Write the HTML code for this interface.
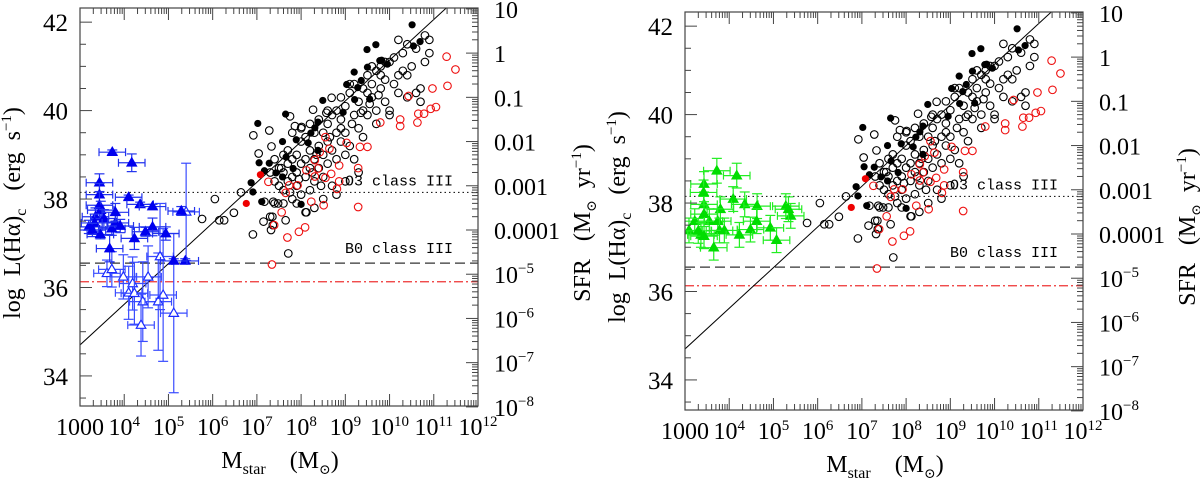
<!DOCTYPE html>
<html><head><meta charset="utf-8">
<style>
html,body{margin:0;padding:0;background:#fff;}
svg{display:block;font-family:"Liberation Serif","DejaVu Serif",serif;}
text{white-space:pre;}
</style></head>
<body>
<svg id="chart" width="1200" height="478" viewBox="0 0 1200 478" xmlns="http://www.w3.org/2000/svg"></svg>
<script>
// ---- data (log Mstar, log L(Halpha)) ----
const galOpenM = [5.76,6.05,6.15,6.26,6.48,6.64,6.91,6.92,7.04,7.17,7.15,7.3,7.32,7.28,7.33,7.36,7.37,7.48,7.65,7.71,7.75,7.86,8.01,8.12,8.27,8.57,8.69,
7.4,7.5,7.5,7.6,7.6,7.7,7.7,7.7,7.8,7.8,7.8,7.9,7.9,7.9,8.0,8.0,8.0,8.1,8.1,8.1,8.2,8.2,8.2,8.3,8.3,8.3,8.4,8.4,8.4,8.5,8.5,8.5,8.6,8.6,8.6,8.7,8.7,8.7,8.8,8.8,8.8,8.9,8.9,9.0,9.0,9.0,9.1,9.1,9.2,9.2,9.3,9.3,9.4,9.4,9.5,9.5,9.6,9.6,9.7,9.7,9.8,9.8,9.9,9.9,10.0,10.0,10.1,10.1,10.2,10.2,10.3,10.3,10.4,10.4,10.5,10.6,10.6,10.7,10.8,10.9,10.9,10.8,10.7,10.4,10.0,9.7,9.4,9.2,9.3,9.0,8.8,8.5,8.3,8.1,7.9,7.6,7.4,7.35,7.4,7.3,7.6,7.8,8.0,8.6,9.1,8.9,9.5,9.8,10.2,9.6,9.9,8.2,8.45,8.25,7.95,7.75,7.55,8.35,8.65,8.9,9.15,9.35,9.55,9.75];
const galOpenL = [37.55,38.0,37.52,37.52,37.69,38.15,37.2,39.44,39.03,37.94,37.49,37.6,37.3,39.55,39.19,37.41,37.94,37.9,37.52,36.77,39.87,39.65,39.63,37.7,40.02,39.95,40.29,
38.9,38.7,38.3,38.6,38.2,38.4,38.8,39.1,38.5,38.0,38.9,39.0,38.6,38.3,38.8,39.3,38.1,38.5,38.9,39.4,38.7,39.1,38.2,38.9,39.5,38.4,39.2,38.7,39.8,39.0,39.5,38.5,39.3,39.7,38.8,39.1,39.9,38.3,39.5,40.0,38.9,39.3,39.8,39.0,40.1,39.5,40.4,39.2,39.9,40.6,40.2,39.6,40.5,40.0,40.8,39.9,40.3,40.6,40.0,40.9,40.5,41.0,40.7,40.2,41.1,40.0,40.6,41.2,40.8,41.6,41.3,40.9,41.5,40.8,41.0,41.4,40.4,40.2,41.7,41.6,41.3,41.1,40.5,40.3,39.9,39.7,39.4,38.9,38.6,38.4,38.1,38.0,37.8,37.7,37.9,37.9,37.9,37.6,38.4,38.6,39.0,39.5,39.6,40.0,40.6,40.3,40.4,40.8,40.4,41.0,41.1,39.7,38.3,38.6,38.45,38.15,38.7,39.0,39.4,39.6,39.7,39.95,40.15,40.35];
const galFillM = [10.51,10.69,10.54,9.69,9.49,9.78,9.95,9.82,9.50,9.20,9.36,9.28,9.03,8.49,9.21,9.55,8.95,7.65,7.02,8.31,8.22,8.38,7.89,7.58,8.16,8.38,7.05,7.28,7.17,7.43,7.82,6.87,6.91,7.11,8.00,7.66,7.58];
const galFillL = [41.94,41.56,41.46,41.49,41.38,41.13,41.05,41.14,40.98,40.87,40.68,40.52,40.59,40.23,40.25,40.26,39.96,39.92,39.71,39.61,39.49,39.74,39.34,39.30,39.27,39.10,38.82,38.81,38.64,38.59,38.69,38.37,38.16,37.94,37.88,38.95,38.50];
const redFillM = [7.08,6.76];
const redFillL = [38.55,37.90];
const redOpenM = [11.29,11.49,11.31,10.97,10.43,11.05,10.93,10.78,10.65,10.24,10.24,10.63,9.79,9.50,9.33,9.03,9.29,9.29,8.86,8.86,8.68,8.55,8.55,8.64,8.42,8.31,8.38,8.12,8.23,8.51,7.92,7.73,7.65,7.26,7.39,7.56,7.69,7.95,8.09,7.34,8.31,8.81];
const redOpenL = [41.22,40.93,40.56,40.5,40.33,40.08,40.04,39.93,39.93,39.8,39.65,39.73,39.73,39.18,39.18,39.27,38.7,37.82,38.76,38.4,38.57,38.48,39.4,39.14,39.06,38.88,38.69,38.65,37.94,37.86,38.31,38.31,38.14,38.39,37.41,37.7,37.13,37.26,37.36,36.52,38.51,38.23];
// left panel: blue triangles
const blueFillM = [3.73,4.17,3.44,3.44,4.1,4.36,4.64,5.29,3.44,3.47,3.35,3.54,3.8,3.8,3.2,3.33,3.28,3.46,3.72,3.91,4.48,4.64,4.23,4.94,3.67,5.38,5.12];
const blueFillL = [39.06,38.82,38.37,38.1,38.04,37.88,37.83,37.73,37.86,37.75,37.6,37.56,37.46,37.7,37.37,37.46,37.3,37.2,37.33,37.39,37.26,37.37,37.11,37.22,36.88,36.6,36.6];
const blueFillYErr = [0.05,0.2,0.2,0.25,0.05,0.05,0.05,0.1,0.3,0.2,0.2,0.2,0.2,0.2,0.15,0.2,0.15,0.1,0.15,0.15,0.1,0.2,0.25,0.15,0.3,0.05,0.05];
const blueOpenM = [3.61,3.72,3.98,4.19,4.54,4.1,4.23,4.42,4.77,4.88,4.38,5.12,4.81,5.4];
const blueOpenL = [36.32,36.41,36.24,36.09,36.24,35.88,35.87,35.68,35.68,35.83,35.15,35.42,36.7,37.71];
const blueOpenYErr = [0.3,0.4,0.5,0.6,0.7,0.6,0.7,0.9,1.1,1.5,0.7,1.8,1.2,1.1];
// right panel: green triangles
const greenM = [3.72,4.17,3.43,3.43,3.42,4.09,4.35,4.63,5.28,3.8,3.43,3.55,3.22,3.74,3.78,3.89,3.09,3.3,3.36,3.43,4.48,4.23,4.62,4.93,5.07,3.65,5.39,5.34];
const greenL = [38.73,38.62,38.43,37.97,38.24,38.09,37.97,37.93,37.93,37.86,37.75,37.59,37.59,37.59,37.38,37.38,37.38,37.37,37.28,37.25,37.4,37.28,37.59,37.44,37.16,36.99,37.71,37.86];
// reference lines and fit
const lineO3 = 38.15, lineB0 = 36.55, lineRed = 36.13;
const fitA = 34.7, fitB = 0.92;
const xTickExp = [3,4,5,6,7,8,9,10,11,12];
const yTicks = [34,36,38,40,42];
const sfrTickLabels = ["10","1","0.1","0.01","0.001","0.0001","10","10","10","10"];
const sfrTickExps = [null,null,null,null,null,null,"−5","−6","−7","−8"];

const NS = "http://www.w3.org/2000/svg";
const svg = document.getElementById('chart');
function mk(tag, attrs, parent){const e=document.createElementNS(NS,tag);for(const k in attrs)e.setAttribute(k,attrs[k]);(parent||svg).appendChild(e);return e;}

function panel(px, py, name, tri){
  const W=398,H=398, xMin=3,xMax=12, yMin=33.32,yMax=42.32;
  const sx=v=>px+(v-xMin)/(xMax-xMin)*W;
  const sy=v=>py+(yMax-v)/(yMax-yMin)*H;
  const g=mk('g',{});
  
  
  const cid='clip-'+name;
  const cp=mk('clipPath',{id:cid},g); mk('rect',{x:px,y:py,width:W,height:H},cp);
  const plot=mk('g',{'clip-path':'url(#'+cid+')'},g);
  const ax=mk('g',{stroke:'#444','stroke-width':1},g);
  
  
  for(let d=3;d<12;d++){for(let k=1;k<10;k++){const v=d+Math.log10(k);const x=sx(v);const len=k===1?12:6;
    if(k===1&&d===3)continue;
    mk('line',{x1:x,y1:py+H,x2:x,y2:py+H-len},ax);mk('line',{x1:x,y1:py,x2:x,y2:py+len},ax);}}
  for(let v=33.5;v<=42.3;v+=0.5){const y=sy(v);const len=(Math.abs(v%2)<0.01)?12:6;mk('line',{x1:px,y1:y,x2:px+len,y2:y},ax);}
  for(let s=-8;s<=1;s++){for(let k=1;k<10;k++){const v=s+Math.log10(k)+41.3;if(v>yMax)continue;const y=sy(v);const len=k===1?12:6;mk('line',{x1:px+W,y1:y,x2:px+W-len,y2:y},ax);}}
  xTickExp.forEach(e=>{const t=mk('text',{x:sx(e),y:py+H+29,'font-size':24,'text-anchor':'middle',fill:'#000'},g);
    
    if(e===3){t.textContent='1000';}else{t.textContent='10';const s=mk('tspan',{'font-size':15,dy:-9},t);s.textContent=String(e);}
  });
  yTicks.forEach(v=>{const t=mk('text',{x:px-12,y:sy(v)+9,'font-size':25,'text-anchor':'end',fill:'#000'},g);t.textContent=String(v);
    });
  sfrTickLabels.forEach((lab,i)=>{const v=1-i+41.3;const t=mk('text',{x:px+W+16,y:sy(v)+9,'font-size':24,fill:'#000'},g);t.textContent=lab;
    
    if(sfrTickExps[i]){const s=mk('tspan',{'font-size':15,dy:-10},t);s.textContent=sfrTickExps[i];}});
  mk('line',{x1:px,x2:px+W,y1:sy(lineO3),y2:sy(lineO3),stroke:'#000','stroke-width':1,'stroke-dasharray':'1.5 3'},plot);
  mk('line',{x1:px,x2:px+W,y1:sy(lineB0),y2:sy(lineB0),stroke:'#333','stroke-width':1.2,'stroke-dasharray':'10 5'},plot);
  mk('line',{x1:px,x2:px+W,y1:sy(lineRed),y2:sy(lineRed),stroke:'#e33','stroke-width':1.2,'stroke-dasharray':'9 3 2 3'},plot);
  const mono='"Liberation Mono","DejaVu Sans Mono",monospace';
  let t=mk('text',{x:px+373,y:sy(lineO3)-7,'font-size':15,'text-anchor':'end','font-family':mono},g);t.textContent='O3 class III';
  
  t=mk('text',{x:px+373,y:sy(lineB0)-10,'font-size':15,'text-anchor':'end','font-family':mono},g);t.textContent='B0 class III';
  
  const fl=mk('line',{x1:sx(3),y1:sy(fitA),x2:sx(12),y2:sy(fitA+fitB*9),stroke:'#000','stroke-width':1},plot);
  
  const triPath=(x,y,r)=>`M${x},${y-r} L${x+r*0.95},${y+r*0.65} L${x-r*0.95},${y+r*0.65} Z`;
  function tris(Ms,Ls,Ye,col,errCol,filled,nm){
    Ms.forEach((m,i)=>{const x=sx(m),y=sy(Ls[i]);const e=Ye[i];
      const eg=mk('g',{stroke:errCol,'stroke-width':1.2},plot);
      
      const xl=sx(m-0.3),xr=sx(m+0.3),yt=sy(Ls[i]+e),yb=sy(Ls[i]-e);
      mk('line',{x1:xl,x2:xr,y1:y,y2:y},eg);mk('line',{x1:xl,x2:xl,y1:y-4,y2:y+4},eg);mk('line',{x1:xr,x2:xr,y1:y-4,y2:y+4},eg);
      mk('line',{x1:x,x2:x,y1:yt,y2:yb},eg);mk('line',{x1:x-5,x2:x+5,y1:yt,y2:yt},eg);mk('line',{x1:x-5,x2:x+5,y1:yb,y2:yb},eg);
      const p=mk('path',{d:triPath(x,y,5),fill:filled?col:'#fff',stroke:col,'stroke-width':1.2},plot);
      
    });
  }
  if(tri==='blue'){
    tris(blueOpenM,blueOpenL,blueOpenYErr,'#1a2cff','#3a4cff',false,'blue-open-triangle');
    tris(blueFillM,blueFillL,blueFillYErr,'#0000ee','#2233ee',true,'blue-filled-triangle');
  } else {
    tris(greenM,greenL,greenM.map(()=>0.28),'#00dd00','#22ee22',true,'green-triangle');
  }
  galOpenM.forEach((m,i)=>{const c=mk('circle',{cx:sx(m),cy:sy(galOpenL[i]),r:3.8,fill:'none',stroke:'#000','stroke-width':1.1},plot);
    });
  redOpenM.forEach((m,i)=>{const c=mk('circle',{cx:sx(m),cy:sy(redOpenL[i]),r:3.8,fill:'none',stroke:'#e11','stroke-width':1.1},plot);
    });
  galFillM.forEach((m,i)=>{const c=mk('circle',{cx:sx(m),cy:sy(galFillL[i]),r:3.6,fill:'#000'},plot);
    });
  redFillM.forEach((m,i)=>{const c=mk('circle',{cx:sx(m),cy:sy(redFillL[i]),r:3.6,fill:'#e00'},plot);
    });
  const fr=mk('rect',{x:px,y:py,width:W,height:H,fill:'none',stroke:'#444','stroke-width':1.2},g);
  
  t=mk('text',{'font-size':24,'text-anchor':'middle',transform:`translate(${px-60},${py+205}) rotate(-90)`},g);
  
  t.innerHTML='log  L(Hα)<tspan font-size="16" dy="6">c</tspan><tspan dy="-6">   (erg  s</tspan><tspan font-size="15" dy="-9">−1</tspan><tspan dy="9">)</tspan>';
  t=mk('text',{'font-size':24,'text-anchor':'middle',transform:`translate(${px+W+112},${py+215}) rotate(-90)`},g);
  
  t.innerHTML='SFR   (M<tspan font-size="14" dy="6">⊙</tspan><tspan dy="-6">  yr</tspan><tspan font-size="15" dy="-9">−1</tspan><tspan dy="9">)</tspan>';
  t=mk('text',{x:px+200,y:py+H+62,'font-size':24,'text-anchor':'middle'},g);
  
  t.innerHTML='M<tspan font-size="16" dy="6">star</tspan><tspan dy="-6">    (M</tspan><tspan font-size="14" dy="6">⊙</tspan><tspan dy="-6">)</tspan>';
}
panel(80,8,'left-panel','blue');
panel(685,12,'right-panel','green');
</script>
</body></html>
